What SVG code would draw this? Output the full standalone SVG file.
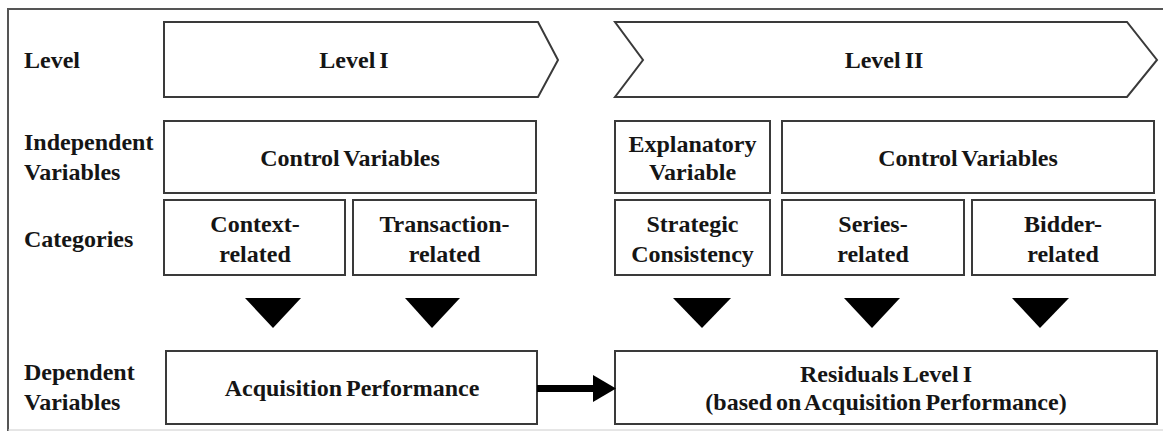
<svg xmlns="http://www.w3.org/2000/svg" width="1163" height="432" viewBox="0 0 1163 432">
<style>
.box{fill:#fff;stroke:#3a3a3a;stroke-width:2}
.t{font-family:"Liberation Serif","Times New Roman",serif;font-weight:bold;font-size:24px;fill:#151515;word-spacing:-2px}
.c{text-anchor:middle}
.tri{fill:#000}
</style>
<defs>
<marker id="ah" markerWidth="23" markerHeight="27" refX="0" refY="13.5" orient="auto" markerUnits="userSpaceOnUse">
<polygon points="0,0 23,13.5 0,27" fill="#000"/>
</marker>
</defs>
<rect width="1163" height="432" fill="#fff"/>
<path d="M8,431 L8,9 L1170,9" fill="none" stroke="#555" stroke-width="2"/>
<line x1="8" y1="430" x2="1163" y2="430" stroke="#ccc" stroke-width="1"/>

<g id="row-labels">
<text class="t" x="24" y="68">Level</text>
<text class="t" x="24" y="150">Independent</text>
<text class="t" x="24" y="180">Variables</text>
<text class="t" x="24" y="247">Categories</text>
<text class="t" x="24" y="380">Dependent</text>
<text class="t" x="24" y="410">Variables</text>
</g>

<g id="level1">
<polygon class="box" points="164,22 538,22 558,60 538,97 164,97"/>
<text class="t c" x="354" y="68">Level I</text>
</g>
<g id="level2">
<polygon class="box" points="615,22 1127,22 1157,60 1127,97 615,97 643,60"/>
<text class="t c" x="884" y="68">Level II</text>
</g>

<g id="control-left">
<rect class="box" x="164" y="121" width="372" height="72"/>
<text class="t c" x="350" y="166">Control Variables</text>
</g>
<g id="explanatory">
<rect class="box" x="615" y="121" width="155" height="72"/>
<text class="t c" x="692.5" y="152">Explanatory</text>
<text class="t c" x="692.5" y="180">Variable</text>
</g>
<g id="control-right">
<rect class="box" x="782" y="121" width="372" height="72"/>
<text class="t c" x="968" y="166">Control Variables</text>
</g>

<g id="context">
<rect class="box" x="164" y="200" width="181" height="75"/>
<text class="t c" x="255" y="232">Context-</text>
<text class="t c" x="255" y="262">related</text>
</g>
<g id="transaction">
<rect class="box" x="353" y="200" width="183" height="75"/>
<text class="t c" x="444.5" y="232">Transaction-</text>
<text class="t c" x="444.5" y="262">related</text>
</g>
<g id="strategic">
<rect class="box" x="615" y="200" width="155" height="75"/>
<text class="t c" x="692.5" y="232">Strategic</text>
<text class="t c" x="692.5" y="262">Consistency</text>
</g>
<g id="series">
<rect class="box" x="782" y="200" width="182" height="75"/>
<text class="t c" x="873" y="232">Series-</text>
<text class="t c" x="873" y="262">related</text>
</g>
<g id="bidder">
<rect class="box" x="972" y="200" width="183" height="75"/>
<text class="t c" x="1063" y="232">Bidder-</text>
<text class="t c" x="1063" y="262">related</text>
</g>

<g id="acquisition">
<rect class="box" x="166" y="351" width="371" height="73"/>
<text class="t c" x="352" y="396">Acquisition Performance</text>
</g>
<g id="residuals">
<rect class="box" x="615" y="351" width="542" height="73"/>
<text class="t c" x="886" y="382">Residuals Level I</text>
<text class="t c" x="886" y="410">(based on Acquisition Performance)</text>
</g>

<g id="connectors">
<polygon class="tri" points="245,298 301,298 273,328"/>
<polygon class="tri" points="405,298 460,298 432,328"/>
<polygon class="tri" points="673,298 731,298 702,328"/>
<polygon class="tri" points="844,298 900,298 872,328"/>
<polygon class="tri" points="1012,298 1069,298 1040,328"/>
<line x1="537" y1="388.5" x2="593" y2="388.5" stroke="#000" stroke-width="7" marker-end="url(#ah)"/>
</g>
</svg>
